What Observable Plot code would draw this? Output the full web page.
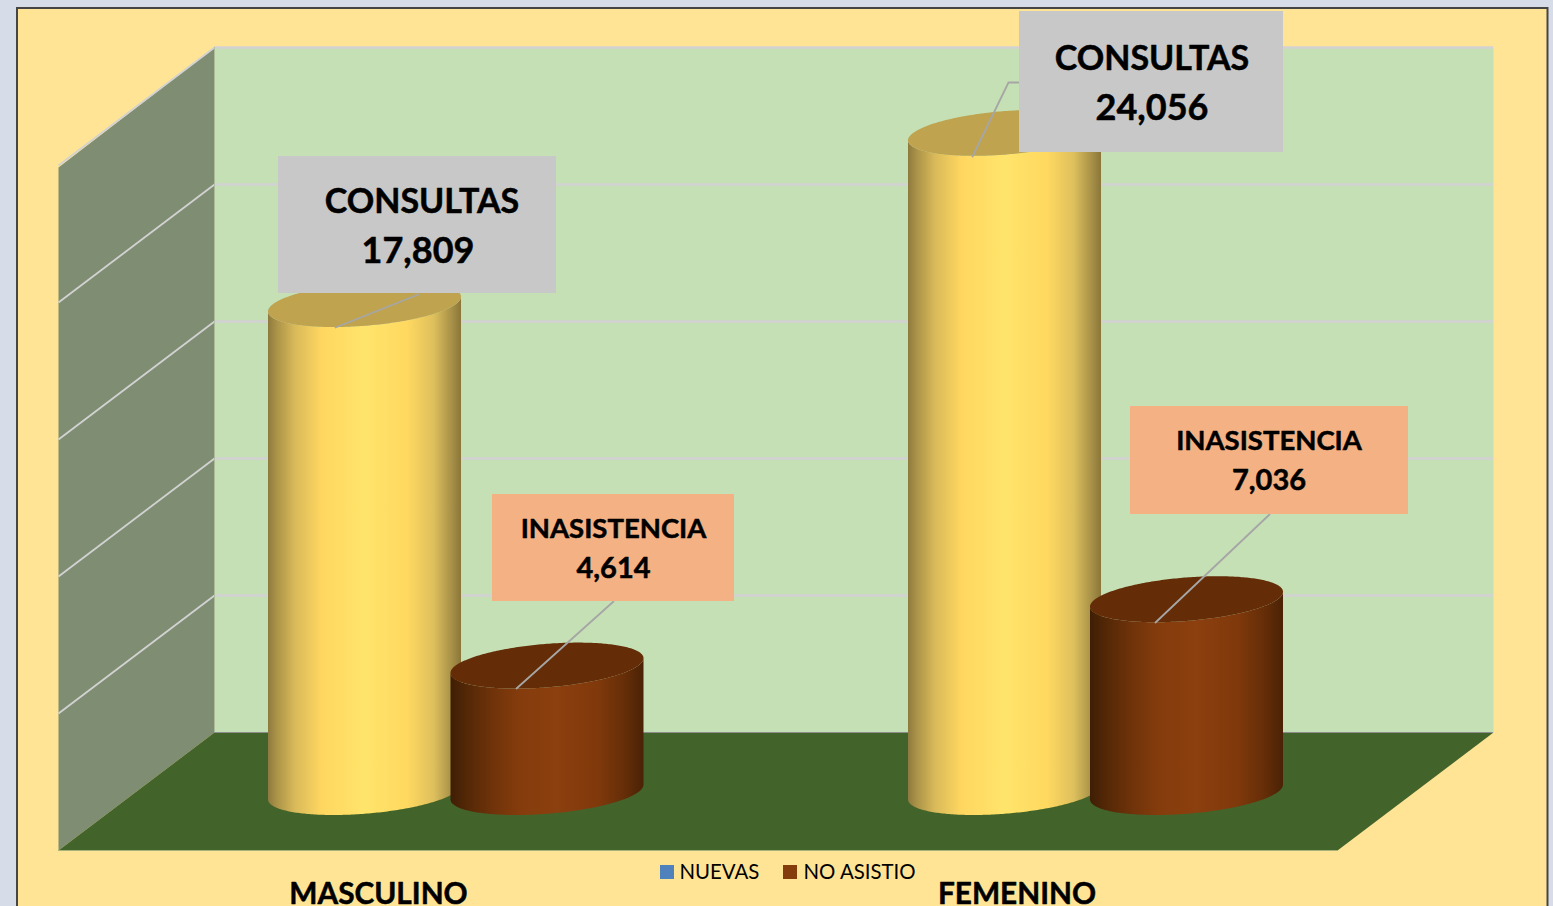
<!DOCTYPE html>
<html>
<head>
<meta charset="utf-8">
<script src="https://cdn.jsdelivr.net/npm/d3@7"></script>
<script src="https://cdn.jsdelivr.net/npm/@observablehq/plot@0.6"></script>
<style>html,body{margin:0;padding:0;background:#D6DDE8;overflow:hidden}svg{display:block}</style>
</head>
<body>
<div id="chart"></div>
<script>
// Data
const categories = ["MASCULINO", "FEMENINO"];
const consultas = [17809, 24056];
const inasistencia = [4614, 7036];
const seriesNames = ["CONSULTAS", "INASISTENCIA"];
const legendLabels = ["NUEVAS", "NO ASISTIO"];
const gridValues = [5000, 10000, 15000, 20000, 25000];

// Layout
const W = 1553, H = 906, FONT = "Lato";
const unitsPerPx = 5000 / 137, basePx = 792;
const V = px => (basePx - px) * unitsPerPx;
const T = 0.328, R = 96.5, B = 23;
const groupX = [364.5, 1004.5], seriesOffset = 182;

const arc = (cx, vTop, vBase) => d3.range(0, 145).map(i => {
  const t = Math.PI * i / 144;
  const x = cx + R * Math.cos(t);
  return {
    x,
    low: V(basePx - vBase / unitsPerPx + B * Math.sin(t - T)),
    up: V(basePx - vTop / unitsPerPx + B * Math.sin(-t - T)),
    topLow: V(basePx - vTop / unitsPerPx + B * Math.sin(t - T))
  };
});

const cylinder = (cx, v, body, top) => {
  const pts = arc(cx, v, 0);
  return [
    Plot.areaY(pts, {x: "x", y1: "low", y2: "topLow", fill: body}),
    Plot.areaY(pts, {x: "x", y1: "topLow", y2: "up", fill: top})
  ];
};

const gradient = (id, stops) => {
  const ns = "http://www.w3.org/2000/svg";
  const g = document.createElementNS(ns, "linearGradient");
  g.setAttribute("id", id);
  for (const [o, c] of stops) {
    const s = document.createElementNS(ns, "stop");
    s.setAttribute("offset", o);
    s.setAttribute("stop-color", c);
    g.appendChild(s);
  }
  return g;
};
const defsMark = () => {
  const ns = "http://www.w3.org/2000/svg";
  const d = document.createElementNS(ns, "defs");
  d.appendChild(gradient("gy", [[0, "#8E7A3E"], [.05, "#AD9549"], [.14, "#D9BA5A"], [.28, "#FFD760"], [.5, "#FFE46B"], [.72, "#FFD960"], [.86, "#DDBF5C"], [.95, "#A89148"], [1, "#8A7639"]]));
  d.appendChild(gradient("gb", [[0, "#3F1E05"], [.1, "#572907"], [.22, "#70330A"], [.36, "#853C0C"], [.55, "#8C3F0F"], [.76, "#80390B"], [.9, "#662E08"], [1, "#4A2206"]]));
  return d;
};

const poly = (pts, fill) => Plot.line(pts.map(([x, y]) => ({x, y: V(y)})), {x: "x", y: "y", fill, stroke: "none"});
const box = (x1, x2, y1, y2, fill) => Plot.rect([0], {x1, x2, y1: V(y2), y2: V(y1), fill});
const leader = (pts) => Plot.line(pts.map(([x, y]) => ({x, y: V(y)})), {x: "x", y: "y", stroke: "#A6A6A6", strokeWidth: 1.8, curve: "linear"});
const label = (text, x, y, size, weight = "bold", anchor = "middle") =>
  Plot.text([text], {x: () => x, y: () => V(y), text: d => d, fontSize: size, fontWeight: weight, fontFamily: FONT, fill: "#000",
    stroke: weight === "bold" ? "#000" : "none", strokeWidth: 0.5, textAnchor: anchor, lineAnchor: "middle"});

const backOffset = (basePx - 732) * unitsPerPx, frontOffset = (basePx - 850) * unitsPerPx;
const fmt = d3.format(",");

const marks = [
  defsMark,
  Plot.rect([0], {x1: 17, x2: 1547.5, y1: V(930), y2: V(8), fill: "#FFE495", stroke: "#454545", strokeWidth: 2}),
  poly([[214, 47], [1493, 47], [1493, 732], [214, 732]], "#C5E0B4"),
  poly([[58, 167], [214, 47], [214, 732], [58, 850]], "#7F8E73"),
  poly([[214, 732], [1493, 732], [1337, 850], [58, 850]], "#42632A"),
  Plot.ruleY(gridValues, {y: v => v + backOffset, x1: 214, x2: 1493, stroke: "#D2D2D2", strokeWidth: 2.5}),
  Plot.ruleY([0], {y: v => v + backOffset, x1: 214, x2: 1493, stroke: "#8C8C8C", strokeWidth: 1}),
  Plot.ruleY([0], {y: v => v + frontOffset, x1: 58, x2: 1337, stroke: "#A9B27A", strokeWidth: 1}),
  Plot.link(gridValues, {x1: 58, x2: 214, y1: v => v + frontOffset, y2: v => v + backOffset, stroke: "#D2D2D2", strokeWidth: 1.8}),
  Plot.ruleX([214], {y1: V(47), y2: V(732), stroke: "#A9BC9B", strokeWidth: 0.8}),
  ...categories.flatMap((c, i) => [
    ...cylinder(groupX[i], consultas[i], "url(#gy)", "#BFA34F"),
    ...cylinder(groupX[i] + seriesOffset + (i ? 0 : 0.5), inasistencia[i], "url(#gb)", "#642D08")
  ]),
  leader([[335, 327], [418, 294]]),
  leader([[972, 156], [1008, 82], [1020, 82]]),
  leader([[516, 688], [613, 601]]),
  leader([[1155, 622], [1269, 514]]),
  box(278, 556, 156, 293, "#C8C8C8"),
  box(1019, 1283, 11, 152, "#C8C8C8"),
  box(492, 734, 494, 601, "#F4B183"),
  box(1130, 1408, 406, 514, "#F4B183"),
  label(seriesNames[0], 421.5, 202, 34),
  label(fmt(consultas[0]), 417.5, 251, 36),
  label(seriesNames[0], 1151.5, 59, 34),
  label(fmt(consultas[1]), 1151.5, 108, 36),
  label(seriesNames[1], 613, 529, 27.5),
  label(fmt(inasistencia[0]), 613, 568, 29),
  label(seriesNames[1], 1268.5, 441, 27.5),
  label(fmt(inasistencia[1]), 1268.5, 480, 29),
  box(660, 674, 865, 879, "#4F81BD"),
  box(783, 797, 865, 879, "#843C0C"),
  label(legendLabels[0], 679, 872, 20.4, "normal", "start"),
  label(legendLabels[1], 803, 872, 20.4, "normal", "start"),
  label(categories[0], 378, 894, 29.8),
  label(categories[1], 1016.5, 894, 29.8)
];

const chart = Plot.plot({
  width: W, height: H,
  marginTop: 0, marginRight: 0, marginBottom: 0, marginLeft: 0,
  style: {background: "#D6DDE8", fontFamily: FONT, maxWidth: "none"},
  x: {type: "linear", domain: [0, W], range: [0, W], axis: null},
  y: {type: "linear", domain: [V(H), V(0)], range: [H, 0], axis: null},
  marks
});
document.getElementById("chart").appendChild(chart);
</script>
</body>
</html>
